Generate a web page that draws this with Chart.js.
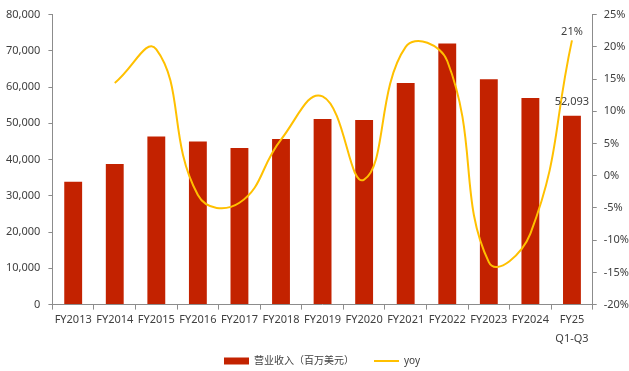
<!DOCTYPE html>
<html>
<head>
<meta charset="utf-8">
<script src="https://cdn.jsdelivr.net/npm/chart.js@4/dist/chart.umd.min.js"></script>
<style>
  html, body { margin: 0; padding: 0; background: #ffffff; }
  #wrap { width: 629px; height: 371px; position: relative; }
</style>
</head>
<body>
<div id="wrap"><canvas id="c" width="629" height="371"></canvas></div>
<script>
const categories = ['FY2013', 'FY2014', 'FY2015', 'FY2016', 'FY2017', 'FY2018', 'FY2019',
  'FY2020', 'FY2021', 'FY2022', 'FY2023', 'FY2024', ['FY25', 'Q1-Q3']];
const revenue = [33900, 38800, 46400, 45000, 43200, 45700, 51200, 50900, 61100, 72000, 62200, 57000, 52093];
const yoy = [null, 14.4, 19.6, -3.0, -4.2, 5.6, 12.3, -0.6, 20.0, 17.8, -13.4, -9.0, 21];
const revenueLabel = '营业收入（百万美元）';
const yoyLabel = 'yoy';
const leftTicks = [0, 10000, 20000, 30000, 40000, 50000, 60000, 70000, 80000];
const rightTicks = [-20, -15, -10, -5, 0, 5, 10, 15, 20, 25];

const FONT = "'Noto Sans', 'Noto Sans CJK SC', sans-serif";
const TXT = '#404040';
const AXIS = '#8c8c8c';

const valueLabels = {
  id: 'valueLabels',
  afterDatasetsDraw(chart) {
    const ctx = chart.ctx;
    ctx.save();
    ctx.font = '11px ' + FONT;
    ctx.fillStyle = TXT;
    ctx.textAlign = 'center';
    ctx.textBaseline = 'middle';
    const last = revenue.length - 1;
    const bar = chart.getDatasetMeta(0).data[last];
    ctx.fillText(revenue[last].toLocaleString('en-US'), bar.x, bar.y - 14);
    const pt = chart.getDatasetMeta(1).data[last];
    ctx.fillText(Math.round(yoy[last]) + '%', pt.x, pt.y - 9);
    ctx.restore();
  }
};

const LEGEND_LAYOUT_H = 22;
const legendPlace = {
  id: 'legendPlace',
  beforeUpdate(chart) {
    const lg = chart.legend;
    if (lg && !lg._patched) {
      const orig = lg.fit;
      lg.fit = function () { orig.call(this); this._fullH = this.height; this.height = LEGEND_LAYOUT_H; };
      lg._patched = true;
    }
  },
  afterLayout(chart) {
    const lg = chart.legend;
    if (lg && lg._fullH) {
      const pad = lg.options.labels.padding;
      const fs = lg.options.labels.font.size;
      lg.top = chart.height - 10 - fs / 2 - pad;
      lg.height = lg._fullH;
      lg.bottom = lg.top + lg._fullH;
      lg.left += 5;
      lg.right += 5;
    }
  }
};

new Chart(document.getElementById('c'), {
  data: {
    labels: categories,
    datasets: [
      {
        type: 'bar',
        label: revenueLabel,
        data: revenue,
        backgroundColor: '#C32200',
        borderWidth: 0,
        yAxisID: 'y',
        order: 2,
        categoryPercentage: 1,
        barPercentage: 0.43,
        pointStyle: 'rect'
      },
      {
        type: 'line',
        label: yoyLabel,
        data: yoy,
        borderColor: '#FFC000',
        backgroundColor: '#FFC000',
        borderWidth: 2,
        pointRadius: 0,
        tension: 0.45,
        yAxisID: 'y1',
        order: 1,
        pointStyle: 'line',
        spanGaps: false
      }
    ]
  },
  options: {
    responsive: false,
    animation: false,
    layout: { padding: { left: -2, right: -7, top: 6, bottom: 0 } },
    plugins: {
      tooltip: { enabled: false },
      legend: {
        position: 'bottom',
        labels: {
          usePointStyle: true,
          pointStyleWidth: 25,
          boxHeight: 7,
          padding: 20,
          color: TXT,
          font: { family: FONT, size: 10 },
          sort: (a, b) => a.datasetIndex - b.datasetIndex
        }
      }
    },
    scales: {
      x: {
        offset: true,
        grid: { display: true, offset: true, drawOnChartArea: false, drawTicks: true, tickLength: 5, color: AXIS },
        border: { display: true, color: AXIS },
        ticks: { color: TXT, font: { family: FONT, size: 11, lineHeight: 1.7 }, maxRotation: 0, autoSkip: false, padding: 1 }
      },
      y: {
        position: 'left',
        min: 0, max: 80000,
        afterBuildTicks(scale) { scale.ticks = leftTicks.map(v => ({ value: v })); },
        grid: { display: true, drawOnChartArea: false, drawTicks: true, tickLength: 4, color: AXIS },
        border: { display: true, color: AXIS },
        ticks: {
          color: TXT, font: { family: FONT, size: 11 }, padding: 8,
          callback: v => v.toLocaleString('en-US')
        }
      },
      y1: {
        position: 'right',
        min: -20, max: 25,
        afterBuildTicks(scale) { scale.ticks = rightTicks.map(v => ({ value: v })); },
        grid: { display: true, drawOnChartArea: false, drawTicks: true, tickLength: 4, color: AXIS },
        border: { display: true, color: AXIS },
        ticks: {
          color: TXT, font: { family: FONT, size: 11 }, padding: 7,
          callback: v => v + '%'
        }
      }
    }
  },
  plugins: [valueLabels, legendPlace]
});
</script>
</body>
</html>
